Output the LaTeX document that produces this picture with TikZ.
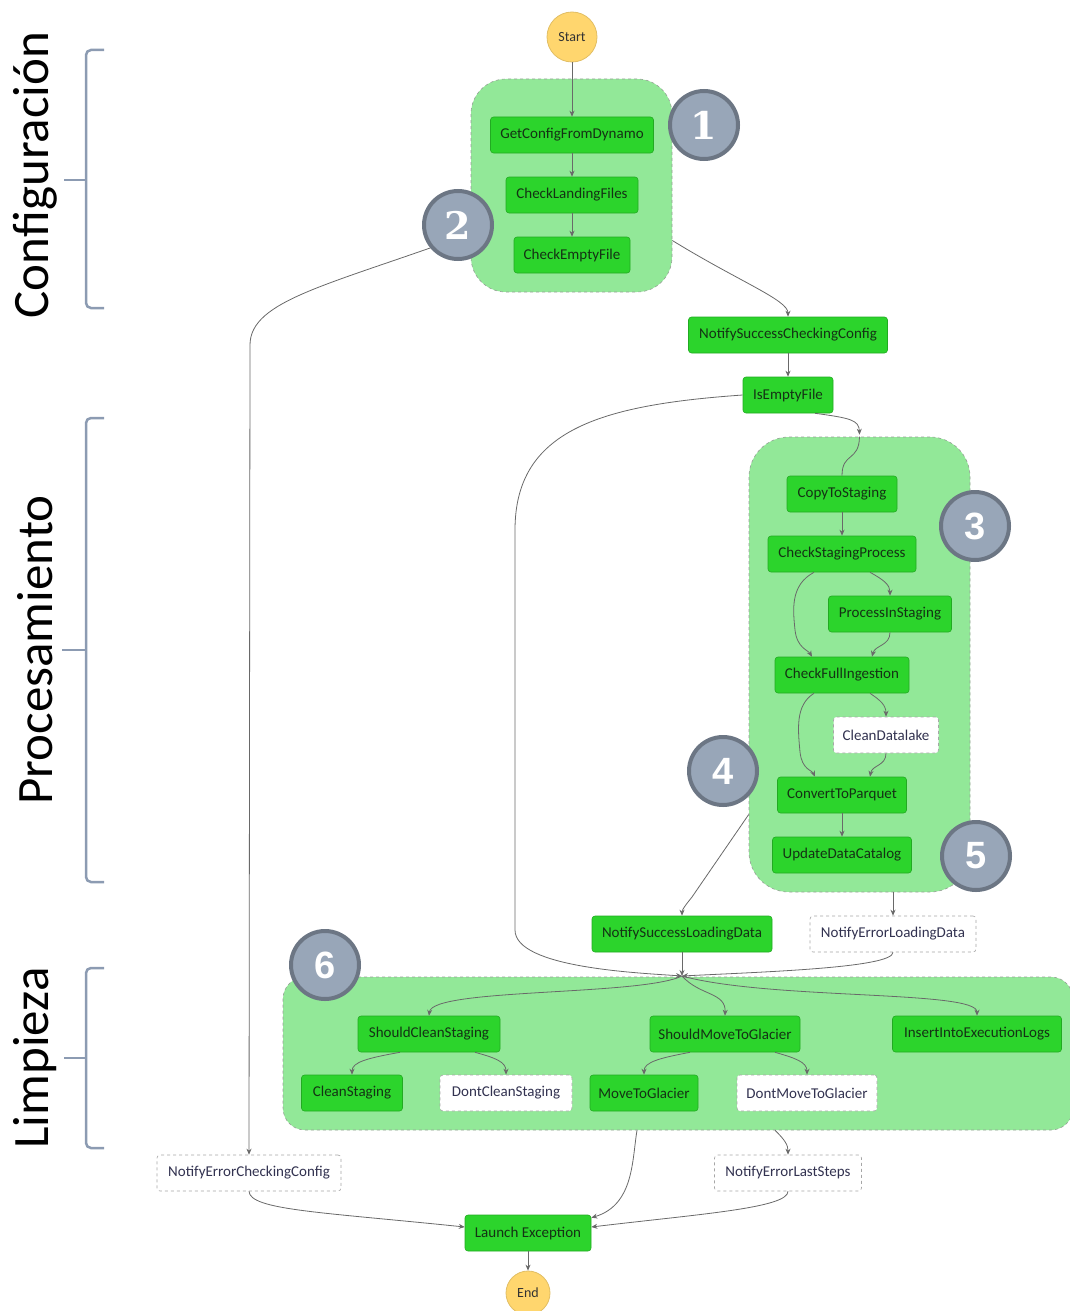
\documentclass[tikz,border=0pt]{standalone}
\usepackage{fontspec}
\setmainfont{Carlito}
\newfontfamily\badgeserif{DejaVu Serif}
\newfontfamily\badgesans{Liberation Sans}
\usetikzlibrary{arrows.meta,calc}
\definecolor{stepgreen}{RGB}{44,212,44}
\definecolor{stepborder}{RGB}{34,170,34}
\definecolor{groupfill}{RGB}{146,232,152}
\definecolor{groupborder}{RGB}{150,160,150}
\definecolor{startfill}{RGB}{255,214,110}
\definecolor{startborder}{RGB}{225,190,100}
\definecolor{badgefill}{RGB}{152,166,184}
\definecolor{badgeborder}{RGB}{108,118,132}
\definecolor{bracecol}{RGB}{140,155,178}
\definecolor{edgecol}{RGB}{105,105,105}
\definecolor{txtdark}{RGB}{20,50,20}
\definecolor{txtwhite}{RGB}{50,50,80}
\begin{document}
\begin{tikzpicture}[x=1pt,y=-1pt,
  stepbox/.style={rectangle, rounded corners=3pt, fill=stepgreen, draw=stepborder, line width=0.6pt,
    minimum height=36pt, inner sep=0pt, text=txtdark, font=\fontsize{15}{17}\selectfont},
  whitebox/.style={rectangle, rounded corners=3pt, fill=white, draw=gray!70, dashed, line width=0.6pt,
    minimum height=36pt, inner sep=0pt, text=txtwhite, font=\fontsize{15}{17}\selectfont},
  groupbox/.style={rectangle, fill=groupfill, draw=groupborder, dashed, line width=0.6pt, inner sep=0pt},
  termnode/.style={circle, fill=startfill, draw=startborder, line width=0.8pt, inner sep=0pt,
    text=black!80, font=\fontsize{14}{16}\selectfont},
  badge/.style={circle, fill=badgefill, draw=badgeborder, line width=4pt, minimum size=68pt,
    inner sep=0pt, text=white},
  edge/.style={draw=edgecol, line width=0.8pt, -{Stealth[length=6pt,width=5pt]}},
  plain/.style={draw=edgecol, line width=0.8pt},
  bracestyle/.style={draw=bracecol, line width=2.5pt, rounded corners=5pt},
  sidelabel/.style={rotate=90, font=\fontsize{51}{56}\selectfont, text=black, inner sep=0pt}
]
\useasboundingbox (0,0) rectangle (1070,1311);

% side labels and braces
\node[sidelabel] (lconf) at (35,175) {Configuración};
\node[sidelabel] (lproc) at (35,650) {Procesamiento};
\node[sidelabel] (llimp) at (35,1058) {Limpieza};
\draw[bracestyle] (104,50) -- (86,50) -- (86,308) -- (104,308);
\draw[bracestyle] (86,180) -- (64,180);
\draw[bracestyle] (104,418) -- (86,418) -- (86,882) -- (104,882);
\draw[bracestyle] (86,650) -- (62,650);
\draw[bracestyle] (104,968) -- (86,968) -- (86,1148) -- (104,1148);
\draw[bracestyle] (86,1058) -- (64,1058);

% groups
\node[groupbox, rounded corners=35pt, minimum width=201pt, minimum height=213pt] (g1) at (571.5,185.5) {};
\node[groupbox, rounded corners=40pt, minimum width=221pt, minimum height=455pt] (g3) at (859.5,664.5) {};
\node[groupbox, rounded corners=22pt, minimum width=790pt, minimum height=153pt] (g6) at (678,1053.5) {};

% terminals
\node[termnode, minimum size=50pt] (start) at (572,37) {Start};
\node[termnode, minimum size=44pt] (end) at (528,1293) {End};

% steps
\node[stepbox, minimum width=163pt] (getcfg) at (572,135) {GetConfigFromDynamo};
\node[stepbox, minimum width=132pt] (clf) at (572,195) {CheckLandingFiles};
\node[stepbox, minimum width=116pt] (cef) at (572,255) {CheckEmptyFile};
\node[stepbox, minimum width=199pt] (nscc) at (788,335) {NotifySuccessCheckingConfig};
\node[stepbox, minimum width=90pt] (ief) at (788,395) {IsEmptyFile};
\node[stepbox, minimum width=110pt] (cts) at (842,494) {CopyToStaging};
\node[stepbox, minimum width=148pt] (csp) at (842,554) {CheckStagingProcess};
\node[stepbox, minimum width=123pt] (pis) at (890,614) {ProcessInStaging};
\node[stepbox, minimum width=134pt] (cfi) at (842,675) {CheckFullIngestion};
\node[whitebox, minimum width=105pt] (cdl) at (886,735) {CleanDatalake};
\node[stepbox, minimum width=129pt] (ctp) at (842,795) {ConvertToParquet};
\node[stepbox, minimum width=139pt] (udc) at (842,855) {UpdateDataCatalog};
\node[stepbox, minimum width=180pt] (nsld) at (682,934) {NotifySuccessLoadingData};
\node[whitebox, minimum width=166pt] (neld) at (893,934) {NotifyErrorLoadingData};
\node[stepbox, minimum width=142pt] (scs) at (429,1034) {ShouldCleanStaging};
\node[stepbox, minimum width=150pt] (smg) at (725,1034) {ShouldMoveToGlacier};
\node[stepbox, minimum width=169pt] (iiel) at (977,1034) {InsertIntoExecutionLogs};
\node[stepbox, minimum width=101pt] (cs) at (352,1093) {CleanStaging};
\node[whitebox, minimum width=132pt] (dcs) at (506,1093) {DontCleanStaging};
\node[stepbox, minimum width=108pt] (mtg) at (644,1093) {MoveToGlacier};
\node[whitebox, minimum width=140pt] (dmtg) at (807,1093) {DontMoveToGlacier};
\node[whitebox, minimum width=184pt] (necc) at (249,1173) {NotifyErrorCheckingConfig};
\node[whitebox, minimum width=147pt] (nels) at (788,1173) {NotifyErrorLastSteps};
\node[stepbox, minimum width=126pt] (le) at (528,1233) {Launch Exception};

\coordinate (merge) at (682,976);

% edges
\draw[edge] (start) -- (getcfg);
\draw[edge] (getcfg) -- (clf);
\draw[edge] (clf) -- (cef);
\draw[edge] ([yshift=-55pt]g1.east) .. controls (740,282) and (788,300) .. (nscc.north);
\draw[edge] ([yshift=-48pt]g1.west) .. controls (330,285) and (250,300) .. (250,345) -- (necc.north);
\draw[edge] (nscc) -- (ief);
\draw[edge] (ief.west) .. controls (600,405) and (515,430) .. (515,530) -- (515,930) .. controls (515,968) and (640,973) .. (merge);
\draw[edge] ([xshift=27pt]ief.south) .. controls (850,418) and (859,420) .. ([yshift=2pt]g3.north);
\draw[plain] (g3.north) .. controls (859,462) and (842,452) .. (cts.north);
\draw[edge] (cts) -- (csp);
\draw[edge] ([xshift=28pt]csp.south) .. controls (884,580) and (890,585) .. (pis.north);
\draw[edge] ([xshift=-28pt]csp.south) .. controls (790,585) and (793,610) .. (795,630) .. controls (797,648) and (808,650) .. ([xshift=-30pt]cfi.north);
\draw[edge] (pis.south) .. controls (890,646) and (875,645) .. ([xshift=30pt]cfi.north);
\draw[edge] ([xshift=28pt]cfi.south) .. controls (880,700) and (886,705) .. (cdl.north);
\draw[edge] ([xshift=-28pt]cfi.south) .. controls (795,705) and (798,730) .. (800,752) .. controls (802,770) and (812,770) .. ([xshift=-27pt]ctp.north);
\draw[edge] (cdl.south) .. controls (886,766) and (872,765) .. ([xshift=28pt]ctp.north);
\draw[edge] (ctp) -- (udc);
\draw[edge] ([yshift=-150pt]g3.west) -- (692,897) .. controls (684,907) and (682,910) .. (nsld.north);
\draw[edge] ([xshift=33.5pt]g3.south) -- (neld.north);
\draw[edge] (nsld) -- (merge);
\draw[edge] (neld.south) .. controls (893,968) and (760,972) .. (merge);
\draw[edge] (merge) .. controls (640,996) and (432,988) .. (scs.north);
\draw[edge] (merge) .. controls (700,996) and (726,992) .. (smg.north);
\draw[edge] (merge) .. controls (770,1000) and (977,990) .. (iiel.north);
\draw[edge] ([xshift=-29pt]scs.south) .. controls (368,1058) and (352,1062) .. (cs.north);
\draw[edge] ([xshift=46pt]scs.south) .. controls (496,1058) and (506,1062) .. (dcs.north);
\draw[edge] ([xshift=-35pt]smg.south) .. controls (660,1058) and (644,1062) .. (mtg.north);
\draw[edge] ([xshift=50pt]smg.south) .. controls (795,1058) and (807,1062) .. (dmtg.north);
\draw[edge] ([xshift=-41pt]g6.south) .. controls (632,1160) and (634,1205) .. ([yshift=-3pt]le.north east);
\draw[edge] ([xshift=97pt]g6.south) .. controls (785,1140) and (788,1145) .. (nels.north);
\draw[edge] (necc.south) .. controls (250,1210) and (320,1212) .. ([yshift=6pt]le.west);
\draw[edge] (nels.south) .. controls (788,1208) and (700,1214) .. ([yshift=6pt]le.east);
\draw[edge] (le) -- (end);

% badges
\node[badge, font=\badgeserif\bfseries\fontsize{38}{40}\selectfont] (b1) at (704,125) {1};
\node[badge, font=\badgeserif\bfseries\fontsize{38}{40}\selectfont] (b2) at (458,225) {2};
\node[badge, font=\badgesans\bfseries\fontsize{38}{40}\selectfont] (b3) at (975,526) {3};
\node[badge, font=\badgesans\bfseries\fontsize{38}{40}\selectfont] (b4) at (723,771) {4};
\node[badge, font=\badgesans\bfseries\fontsize{38}{40}\selectfont] (b5) at (976,856) {5};
\node[badge, font=\badgesans\bfseries\fontsize{38}{40}\selectfont] (b6) at (325,965) {6};
\end{tikzpicture}
\end{document}
